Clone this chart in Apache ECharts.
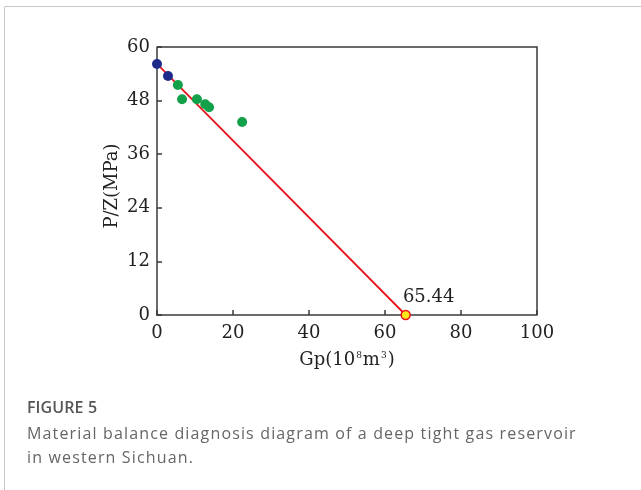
<!DOCTYPE html>
<html>
<head>
<meta charset="utf-8">
<script src="https://cdn.jsdelivr.net/npm/echarts@6/dist/echarts.min.js"></script>
<style>
  html, body { margin: 0; padding: 0; background: #fff; }
  #wrap { position: relative; width: 641px; height: 490px; overflow: hidden; }
  #chart { width: 641px; height: 490px; }
  .cap { position: absolute; left: 27px; font-family: 'Open Sans', 'Noto Sans', sans-serif; color: #666; font-size: 16px; letter-spacing: 1.15px; white-space: nowrap; line-height: 24px; }
  #capTitle { top: 395px; font-weight: 600; color: #555; letter-spacing: 0.1px; }
  #capText { top: 421px; }
</style>
</head>
<body>
<div id="wrap">
  <div id="chart"></div>
  <div class="cap" id="capTitle">FIGURE 5</div>
  <div class="cap" id="capText">Material balance diagnosis diagram of a deep tight gas reservoir<br>in western Sichuan.</div>
</div>
<script>
// early points (blue)
const earlyGp = [0, 2.9];
const earlyPZ = [56.2, 53.5];
// later points (green)
const laterGp = [5.5, 6.6, 10.5, 12.7, 13.7, 22.4];
const laterPZ = [51.5, 48.3, 48.3, 47.2, 46.5, 43.2];
// fitted line and its intercept
const fitGp = [0, 65.44];
const fitPZ = [56.2, 0];
const interceptLabel = "65.44";

const serif = "'DejaVu Serif', 'Liberation Serif', serif";

const chart = echarts.init(document.getElementById("chart"), null, { renderer: "canvas" });

chart.setOption({
  backgroundColor: "#fff",
  animation: false,
  grid: { left: 157, top: 47, width: 380, height: 268 },
  xAxis: {
    type: "value",
    min: 0,
    max: 100,
    interval: 20,
    name: "{n|Gp(10}{s|8}{n|m}{s|3}{n|)}",
    nameLocation: "middle",
    nameGap: 36,
    nameTextStyle: {
      rich: {
        n: { fontFamily: serif, fontSize: 18, color: "#222" },
        s: { fontFamily: serif, fontSize: 9, color: "#222", verticalAlign: "top", padding: [0, 1, 10, 1] },
      },
    },
    axisLine: { show: true, onZero: false, lineStyle: { color: "#3a3a3a", width: 1.5 } },
    axisTick: { show: true, inside: true, length: 5, lineStyle: { color: "#3a3a3a", width: 1.5 } },
    axisLabel: { color: "#222", fontFamily: serif, fontSize: 18, margin: 9 },
    splitLine: { show: false },
  },
  yAxis: {
    type: "value",
    min: 0,
    max: 60,
    interval: 12,
    name: "P/Z(MPa)",
    nameLocation: "middle",
    nameGap: 36,
    nameMoveOverlap: false,
    nameTextStyle: { fontFamily: serif, fontSize: 18, color: "#222", padding: [0, 10, 0, 0] },
    axisLine: { show: true, onZero: false, lineStyle: { color: "#3a3a3a", width: 1.5 } },
    axisTick: { show: true, inside: true, length: 5, lineStyle: { color: "#3a3a3a", width: 1.5 } },
    axisLabel: { color: "#222", fontFamily: serif, fontSize: 18, margin: 7 },
    splitLine: { show: false },
  },
  series: [
    {
      type: "line",
      data: fitGp.map((x, i) => [x, fitPZ[i]]),
      showSymbol: false,
      lineStyle: { color: "#e8141b", width: 1.8 },
      z: 2,
    },
    {
      type: "scatter",
      data: earlyGp.map((x, i) => [x, earlyPZ[i]]),
      symbolSize: 10,
      itemStyle: { color: "#1d2a8c", opacity: 1 },
      z: 3,
    },
    {
      type: "scatter",
      data: laterGp.map((x, i) => [x, laterPZ[i]]),
      symbolSize: 10,
      itemStyle: { color: "#13a04a", opacity: 1 },
      z: 3,
    },
    {
      type: "scatter",
      data: [[fitGp[1], fitPZ[1]]],
      symbolSize: 9,
      itemStyle: { color: "#ffe81a", borderColor: "#e8141b", borderWidth: 1.5, opacity: 1 },
      label: {
        show: true,
        formatter: interceptLabel,
        position: "top",
        offset: [23, 2],
        fontFamily: serif,
        fontSize: 18,
        color: "#222",
      },
      z: 4,
    },
  ],
  graphic: [
    // plot frame top and right
    { type: "polyline", shape: { points: [[157, 47], [537, 47], [537, 315]] },
      style: { stroke: "#3a3a3a", lineWidth: 1.5, fill: null }, z: 1 },
    // figure panel border
    { type: "polyline", shape: { points: [[4.5, 490], [4.5, 6.5], [641, 6.5]] },
      style: { stroke: "#c8c8c8", lineWidth: 1, fill: null } },
  ],
});
</script>
</body>
</html>
